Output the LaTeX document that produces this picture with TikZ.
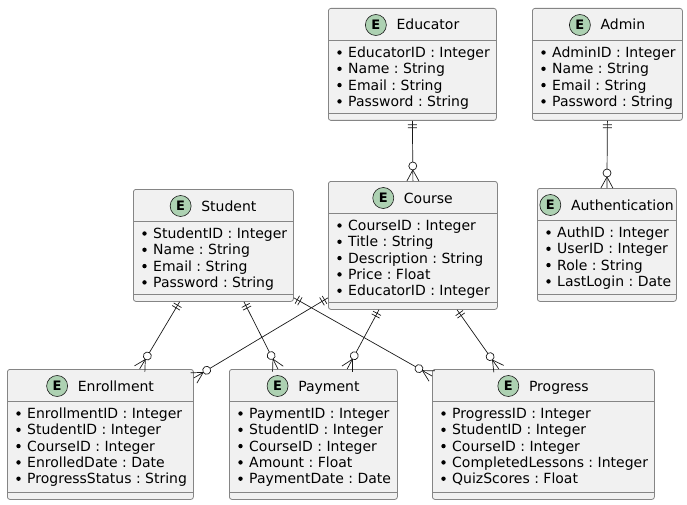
\documentclass[tikz,border=0pt]{standalone}
\usepackage{fontspec}
\setmainfont{DejaVu Sans}
\frenchspacing
\usetikzlibrary{positioning,calc,decorations.markings}
\definecolor{boxfill}{HTML}{F1F1F1}
\definecolor{boxline}{HTML}{858585}
\definecolor{relline}{HTML}{181818}
\definecolor{entgreen}{HTML}{ADD1B2}

\tikzset{
  ebox/.style={draw=boxline, fill=boxfill, line width=0.8pt, rounded corners=2.5pt, inner sep=0pt},
  eline/.style={draw=boxline, line width=0.8pt},
  ecirc/.style={circle, draw=relline, fill=entgreen, line width=0.6pt, minimum size=21pt, inner sep=0pt,
    font=\fontsize{13}{13}\selectfont\bfseries},
  etext/.style={inner sep=0pt, font=\fontsize{14}{16}\selectfont},
  zmany/.style={draw=relline, line width=0.7pt, postaction=decorate, decoration={markings,
    mark=at position 4pt with {\draw[relline, line width=0.7pt] (0,-4.5pt) -- (0,4.5pt);},
    mark=at position 7pt with {\draw[relline, line width=0.7pt] (0,-4.5pt) -- (0,4.5pt);},
    mark=at position -15pt with {\draw[relline, fill=white, line width=0.7pt] (0,0) circle (4pt);},
    mark=at position 1 with {\draw[relline, line width=0.7pt] (-11pt,0) -- (0,6pt) (-11pt,0) -- (0,-6pt);}}}
}

% name, x, y, width, height, title, attributes
\newcommand{\entity}[7]{
  \node[ebox, minimum width=#4pt, minimum height=#5pt, anchor=north west] (#1) at (#2,#3) {};
  \draw[eline] ([yshift=-32.5pt]#1.north west) -- ([yshift=-32.5pt]#1.north east);
  \draw[eline] ([yshift=7.5pt]#1.south west) -- ([yshift=7.5pt]#1.south east);
  \node[etext, anchor=base] (#1-t) at ([xshift=15.5pt, yshift=-22pt]#1.north) {#6};
  \node[ecirc] (#1-c) at ([xshift=-20.5pt, yshift=5pt]#1-t.base west) {E};
  \foreach \a [count=\i] in {#7} {
    \fill[black] ([xshift=11.5pt, yshift={-44.5pt-(\i-1)*16.3pt}]#1.north west) circle (2.2pt);
    \node[etext, anchor=base west] at ([xshift=20pt, yshift={-49.5pt-(\i-1)*16.3pt}]#1.north west) {\a};
  }
}

\begin{document}
\begin{tikzpicture}[x=1pt, y=-1pt, font=\fontsize{14}{16}\selectfont]
\useasboundingbox (0,0) rectangle (687,505);

% entities
\entity{edu}{328}{8}{168}{112}{Educator}{EducatorID : Integer, Name : String, Email : String, Password : String}
\entity{adm}{532}{8}{150}{112}{Admin}{AdminID : Integer, Name : String, Email : String, Password : String}
\entity{stu}{133}{189}{160}{112}{Student}{StudentID : Integer, Name : String, Email : String, Password : String}
\entity{crs}{328}{181}{169}{128}{Course}{CourseID : Integer, Title : String, Description : String, Price : Float, EducatorID : Integer}
\entity{auth}{537}{188}{139}{113}{Authentication}{AuthID : Integer, UserID : Integer, Role : String, LastLogin : Date}
\entity{enr}{7}{369}{186}{130}{Enrollment}{EnrollmentID : Integer, StudentID : Integer, CourseID : Integer, EnrolledDate : Date, ProgressStatus : String}
\entity{pay}{229}{369}{168}{130}{Payment}{PaymentID : Integer, StudentID : Integer, CourseID : Integer, Amount : Float, PaymentDate : Date}
\entity{prog}{432}{369}{222}{130}{Progress}{ProgressID : Integer, StudentID : Integer, CourseID : Integer, CompletedLessons : Integer, QuizScores : Float}

% relations
\draw[zmany] (edu.south) -- (crs.north);
\draw[zmany] (adm.south) -- (auth.north);
\draw[zmany] ($(stu.south west)!0.29!(stu.south east)$) -- ($(enr.north west)!0.71!(enr.north east)$);
\draw[zmany] ($(stu.south west)!0.69!(stu.south east)$) -- ($(pay.north west)!0.29!(pay.north east)$);
\draw[zmany] ([yshift=4pt]stu.south east) -- ([yshift=-7pt]prog.north west);
\draw[zmany] ([yshift=12pt]crs.south west) -- ([yshift=-9pt]enr.north east);
\draw[zmany] ($(crs.south west)!0.30!(crs.south east)$) -- ($(pay.north west)!0.70!(pay.north east)$);
\draw[zmany] ($(crs.south west)!0.76!(crs.south east)$) -- ($(prog.north west)!0.30!(prog.north east)$);
\end{tikzpicture}
\end{document}
